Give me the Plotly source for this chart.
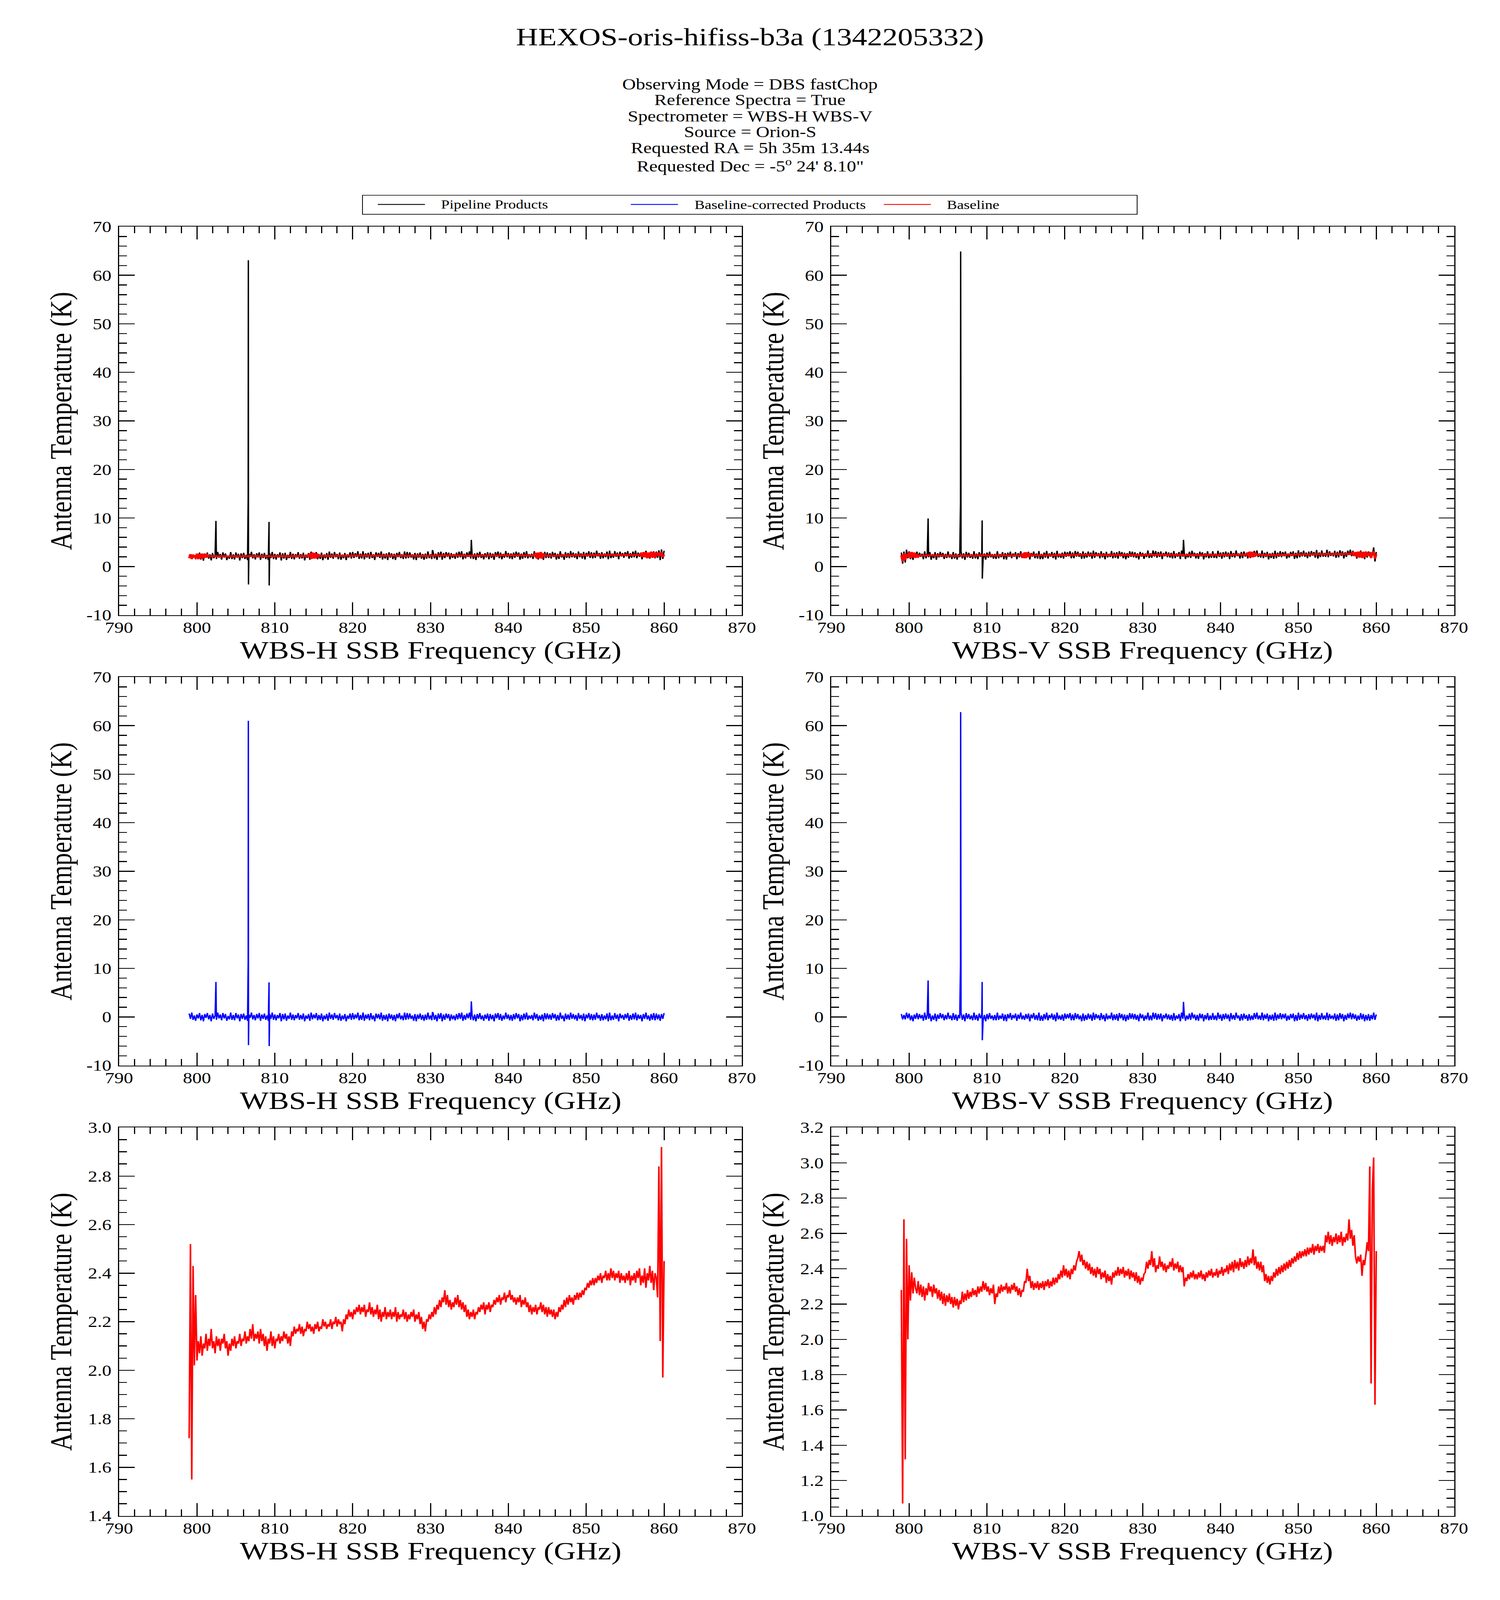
import numpy as np
import plotly.graph_objects as go

# ---------------- data ----------------
# channel grid of the spectra (GHz): 799.0 ... 860.0, 6 channels per GHz (plotted resolution)
FREQ_START, FREQ_END, N_CHAN = 799.0, 860.0, 367
freq = np.linspace(FREQ_START, FREQ_END, N_CHAN)

# Baseline, WBS-H (K), rows of 2 GHz
baseline_H = [
    1.72, 2.52, 1.55, 2.43, 2.02, 2.31, 2.04, 2.12, 2.07, 2.14, 2.06, 2.11,
    2.09, 2.15, 2.08, 2.13, 2.10, 2.17, 2.09, 2.12, 2.07, 2.14, 2.10, 2.13,
    2.08, 2.13, 2.11, 2.15, 2.09, 2.12, 2.06, 2.11, 2.08, 2.13, 2.10, 2.14,
    2.09, 2.12, 2.11, 2.15, 2.10, 2.13, 2.12, 2.16, 2.11, 2.14, 2.12, 2.17,
    2.13, 2.19, 2.12, 2.15, 2.13, 2.16, 2.11, 2.17, 2.12, 2.15, 2.10, 2.14,
    2.08, 2.13, 2.11, 2.16, 2.10, 2.14, 2.09, 2.13, 2.12, 2.15, 2.11, 2.14,
    2.12, 2.16, 2.13, 2.15, 2.11, 2.14, 2.10, 2.16, 2.14, 2.18, 2.15, 2.17,
    2.16, 2.19, 2.15, 2.18, 2.14, 2.17, 2.16, 2.20, 2.17, 2.19, 2.16, 2.18,
    2.15, 2.19, 2.17, 2.20, 2.16, 2.18, 2.17, 2.21, 2.18, 2.20, 2.17, 2.19,
    2.18, 2.21, 2.17, 2.20, 2.19, 2.22, 2.18, 2.21, 2.19, 2.20, 2.16, 2.21,
    2.19, 2.23, 2.21, 2.25, 2.22, 2.24, 2.21, 2.25, 2.23, 2.26, 2.24, 2.27,
    2.23, 2.26, 2.24, 2.27, 2.22, 2.25, 2.24, 2.28, 2.23, 2.26, 2.22, 2.25,
    2.23, 2.27, 2.21, 2.25, 2.20, 2.24, 2.22, 2.26, 2.21, 2.24, 2.22, 2.25,
    2.21, 2.24, 2.22, 2.26, 2.20, 2.24, 2.21, 2.23, 2.22, 2.25, 2.21, 2.24,
    2.20, 2.23, 2.21, 2.24, 2.22, 2.25, 2.20, 2.23, 2.21, 2.24, 2.19, 2.22,
    2.17, 2.20, 2.16, 2.21, 2.20, 2.23, 2.21, 2.24, 2.22, 2.26, 2.23, 2.27,
    2.25, 2.29, 2.26, 2.30, 2.28, 2.33, 2.27, 2.31, 2.26, 2.29, 2.25, 2.28,
    2.26, 2.30, 2.27, 2.31, 2.26, 2.29, 2.25, 2.28, 2.24, 2.27, 2.22, 2.25,
    2.21, 2.24, 2.22, 2.25, 2.21, 2.24, 2.23, 2.26, 2.24, 2.27, 2.25, 2.28,
    2.23, 2.27, 2.25, 2.28, 2.24, 2.27, 2.26, 2.29, 2.27, 2.30, 2.28, 2.31,
    2.27, 2.30, 2.29, 2.32, 2.28, 2.31, 2.30, 2.33, 2.29, 2.31, 2.28, 2.30,
    2.27, 2.30, 2.28, 2.31, 2.26, 2.29, 2.27, 2.30, 2.26, 2.28, 2.24, 2.27,
    2.23, 2.26, 2.24, 2.27, 2.23, 2.26, 2.25, 2.28, 2.24, 2.27, 2.23, 2.26,
    2.22, 2.26, 2.23, 2.25, 2.22, 2.25, 2.21, 2.24, 2.22, 2.26, 2.24, 2.27,
    2.25, 2.29, 2.26, 2.30, 2.27, 2.31, 2.28, 2.30, 2.27, 2.31, 2.29, 2.32,
    2.29, 2.32, 2.30, 2.33, 2.31, 2.34, 2.33, 2.36, 2.34, 2.37, 2.35, 2.38,
    2.35, 2.38, 2.36, 2.39, 2.37, 2.40, 2.36, 2.39, 2.38, 2.41, 2.37, 2.40,
    2.37, 2.42, 2.38, 2.41, 2.37, 2.40, 2.38, 2.41, 2.36, 2.40, 2.37, 2.39,
    2.36, 2.40, 2.37, 2.41, 2.35, 2.39, 2.37, 2.40, 2.36, 2.41, 2.38, 2.42,
    2.35, 2.39, 2.36, 2.42, 2.34, 2.40, 2.37, 2.43, 2.36, 2.41, 2.33, 2.40,
    2.38, 2.30, 2.84, 2.12, 2.92, 1.97, 2.45,
]

# Baseline, WBS-V (K)
baseline_V = [
    2.28, 1.07, 2.68, 1.32, 2.57, 2.00, 2.42, 2.22, 2.38, 2.26, 2.35, 2.29,
    2.26, 2.33, 2.25, 2.31, 2.24, 2.30, 2.22, 2.29, 2.25, 2.32, 2.27, 2.30,
    2.24, 2.31, 2.26, 2.29, 2.23, 2.28, 2.22, 2.27, 2.20, 2.26, 2.19, 2.25,
    2.21, 2.26, 2.20, 2.24, 2.18, 2.24, 2.19, 2.23, 2.17, 2.22, 2.20, 2.27,
    2.21, 2.26, 2.22, 2.28, 2.23, 2.27, 2.24, 2.29, 2.25, 2.28, 2.24, 2.30,
    2.26, 2.30, 2.27, 2.33, 2.28, 2.32, 2.27, 2.30, 2.25, 2.29, 2.26, 2.31,
    2.20, 2.26, 2.24, 2.30, 2.26, 2.31, 2.27, 2.30, 2.28, 2.32, 2.26, 2.30,
    2.26, 2.31, 2.28, 2.32, 2.27, 2.30, 2.25, 2.29, 2.24, 2.28, 2.27, 2.33,
    2.32, 2.40, 2.33, 2.36, 2.29, 2.33, 2.28, 2.32, 2.29, 2.33, 2.28, 2.32,
    2.29, 2.33, 2.28, 2.33, 2.30, 2.34, 2.29, 2.33, 2.30, 2.35, 2.31, 2.35,
    2.32, 2.37, 2.34, 2.39, 2.35, 2.42, 2.36, 2.40, 2.35, 2.39, 2.34, 2.40,
    2.37, 2.42, 2.39, 2.44, 2.46, 2.50, 2.44, 2.48, 2.42, 2.45, 2.40, 2.44,
    2.39, 2.43, 2.37, 2.41, 2.36, 2.40, 2.35, 2.41, 2.37, 2.40, 2.34, 2.38,
    2.35, 2.39, 2.32, 2.37, 2.33, 2.36, 2.31, 2.38, 2.35, 2.39, 2.36, 2.41,
    2.36, 2.40, 2.37, 2.41, 2.35, 2.39, 2.36, 2.40, 2.34, 2.39, 2.35, 2.38,
    2.33, 2.38, 2.32, 2.36, 2.31, 2.35, 2.33, 2.37, 2.38, 2.44, 2.40, 2.45,
    2.42, 2.50, 2.41, 2.46, 2.38, 2.42, 2.40, 2.47, 2.41, 2.44, 2.39, 2.43,
    2.38, 2.42, 2.40, 2.44, 2.41, 2.46, 2.39, 2.43, 2.40, 2.44, 2.38, 2.42,
    2.38, 2.41, 2.30, 2.35, 2.33, 2.37, 2.34, 2.38, 2.35, 2.39, 2.34, 2.37,
    2.34, 2.38, 2.35, 2.39, 2.34, 2.37, 2.33, 2.38, 2.35, 2.39, 2.36, 2.40,
    2.35, 2.38, 2.36, 2.40, 2.35, 2.39, 2.37, 2.41, 2.36, 2.40, 2.38, 2.42,
    2.37, 2.43, 2.39, 2.44, 2.38, 2.45, 2.40, 2.44, 2.39, 2.46, 2.41, 2.44,
    2.40, 2.45, 2.41, 2.47, 2.42, 2.46, 2.43, 2.51, 2.42, 2.47, 2.40, 2.44,
    2.39, 2.44, 2.38, 2.42, 2.33, 2.37, 2.32, 2.36, 2.31, 2.36, 2.33, 2.38,
    2.35, 2.40, 2.36, 2.41, 2.37, 2.42, 2.38, 2.43, 2.39, 2.44, 2.40, 2.45,
    2.41, 2.46, 2.43, 2.47, 2.44, 2.49, 2.45, 2.50, 2.46, 2.50, 2.47, 2.51,
    2.47, 2.52, 2.48, 2.52, 2.49, 2.54, 2.48, 2.53, 2.50, 2.54, 2.49, 2.53,
    2.50, 2.53, 2.49, 2.59, 2.55, 2.61, 2.54, 2.59, 2.53, 2.58, 2.55, 2.60,
    2.54, 2.59, 2.55, 2.61, 2.53, 2.58, 2.55, 2.60, 2.56, 2.68, 2.57, 2.62,
    2.53, 2.59, 2.47, 2.43, 2.47, 2.44, 2.48, 2.36, 2.45, 2.42, 2.48, 2.55,
    2.50, 2.98, 1.75, 2.85, 3.03, 1.63, 2.50,
]

# Baseline-corrected products, WBS-H (K), continuum channels
corrected_H = [
    0.7, -0.4, 0.9, -0.6, 0.3, -0.8, 0.5, -0.3, 0.8, -0.7, 0.4, -0.9,
    0.6, -0.2, 0.8, -0.5, 0.4, -0.9, 0.7, -0.4, 0.3, -0.6, 0.9, -0.3,
    0.5, -0.7, 0.8, -0.3, 0.6, -0.8, 0.2, -0.5, 0.9, -0.6, 0.4, -0.7,
    0.8, -0.3, 0.5, -0.9, 0.6, -0.4, 0.7, -0.6, 0.3, -0.8, 0.5, -0.2,
    0.9, -0.5, 0.4, -0.7, 0.6, -0.3, 0.8, -0.8, 0.5, -0.4, 0.7, -0.6,
    0.3, -0.8, 0.6, -0.4, 0.9, -0.6, 0.5, -0.7, 0.4, -0.3, 0.8, -0.9,
    0.6, -0.5, 0.7, -0.8, 0.3, -0.4, 0.9, -0.6, 0.5, -0.7, 0.4, -0.3,
    0.8, -0.6, 0.4, -0.5, 0.7, -0.9, 0.3, -0.4, 0.6, -0.8, 0.9, -0.5,
    0.5, -0.3, 0.8, -0.7, 0.4, -0.6, 0.7, -0.9, 0.3, -0.5, 0.6, -0.8,
    0.9, -0.4, 0.5, -0.6, 0.8, -0.3, 0.4, -0.7, 0.7, -0.8, 0.3, -0.5,
    0.6, -0.9, 0.3, -0.4, 0.7, -0.6, 0.8, -0.5, 0.5, -0.3, 0.9, -0.7,
    0.4, -0.6, 0.9, -0.8, 0.5, -0.4, 0.6, -0.7, 0.8, -0.5, 0.3, -0.9,
    0.7, -0.3, 0.6, -0.5, 0.9, -0.8, 0.4, -0.6, 0.5, -0.9, 0.7, -0.4,
    0.5, -0.7, 0.4, -0.9, 0.6, -0.3, 0.8, -0.5, 0.3, -0.7, 0.9, -0.6,
    0.8, -0.5, 0.7, -0.4, 0.3, -0.8, 0.6, -0.9, 0.5, -0.4, 0.7, -0.6,
    0.4, -0.8, 0.5, -0.6, 0.9, -0.5, 0.3, -0.7, 0.8, -0.6, 0.4, -0.9,
    0.7, -0.4, 0.8, -0.9, 0.5, -0.6, 0.7, -0.3, 0.6, -0.8, 0.5, -0.5,
    0.3, -0.7, 0.6, -0.5, 0.8, -0.4, 0.9, -0.8, 0.4, -0.6, 0.7, -0.3,
    0.9, -0.6, 0.4, -0.7, 0.5, -0.9, 0.6, -0.4, 0.8, -0.5, 0.3, -0.8,
    0.5, -0.4, 0.7, -0.8, 0.6, -0.5, 0.4, -0.9, 0.7, -0.3, 0.8, -0.6,
    0.6, -0.8, 0.3, -0.5, 0.9, -0.4, 0.5, -0.7, 0.4, -0.8, 0.6, -0.5,
    0.8, -0.3, 0.6, -0.9, 0.4, -0.7, 0.7, -0.5, 0.9, -0.6, 0.3, -0.4,
    0.4, -0.7, 0.9, -0.4, 0.6, -0.8, 0.3, -0.6, 0.5, -0.9, 0.8, -0.5,
    0.7, -0.5, 0.5, -0.6, 0.8, -0.3, 0.6, -0.8, 0.4, -0.7, 0.9, -0.4,
    0.3, -0.9, 0.7, -0.5, 0.5, -0.6, 0.9, -0.4, 0.6, -0.5, 0.4, -0.8,
    0.8, -0.4, 0.4, -0.7, 0.7, -0.9, 0.5, -0.3, 0.8, -0.6, 0.6, -0.7,
    0.5, -0.6, 0.9, -0.3, 0.4, -0.8, 0.6, -0.7, 0.3, -0.5, 0.7, -0.9,
    0.9, -0.7, 0.3, -0.6, 0.8, -0.4, 0.5, -0.9, 0.7, -0.3, 0.4, -0.6,
    0.6, -0.3, 0.8, -0.8, 0.4, -0.6, 0.7, -0.5, 0.9, -0.7, 0.5, -0.4,
    0.4, -0.9, 0.6, -0.4, 0.9, -0.5, 0.3, -0.8, 0.6, -0.6, 0.8, -0.7,
    0.7, -0.5, 0.5, -0.8, 0.6, -0.4, 0.8,
]

# Baseline-corrected products, WBS-V (K), continuum channels
corrected_V = [
    0.6, -0.5, 0.4, -0.5, 0.9, -0.3, 0.7, -0.7, 0.3, -0.9, 0.5, -0.4,
    0.8, -0.5, 0.6, -0.3, 0.4, -0.8, 0.9, -0.6, 0.5, -0.4, 0.7, -0.9,
    0.3, -0.6, 0.7, -0.9, 0.5, -0.4, 0.8, -0.3, 0.6, -0.7, 0.4, -0.5,
    0.9, -0.4, 0.3, -0.7, 0.8, -0.6, 0.5, -0.8, 0.4, -0.3, 0.9, -0.6,
    0.5, -0.9, 0.8, -0.4, 0.6, -0.5, 0.3, -0.7, 0.9, -0.6, 0.4, -0.8,
    0.7, -0.3, 0.5, -0.8, 0.4, -0.9, 0.6, -0.5, 0.8, -0.4, 0.3, -0.7,
    0.4, -0.7, 0.9, -0.6, 0.3, -0.4, 0.7, -0.8, 0.5, -0.9, 0.6, -0.3,
    0.8, -0.6, 0.4, -0.3, 0.7, -0.8, 0.5, -0.4, 0.9, -0.5, 0.3, -0.6,
    0.6, -0.4, 0.7, -0.9, 0.5, -0.3, 0.8, -0.6, 0.4, -0.7, 0.9, -0.8,
    0.3, -0.8, 0.6, -0.5, 0.9, -0.7, 0.4, -0.3, 0.7, -0.6, 0.5, -0.9,
    0.9, -0.5, 0.3, -0.6, 0.5, -0.8, 0.7, -0.4, 0.6, -0.3, 0.8, -0.7,
    0.5, -0.7, 0.8, -0.4, 0.6, -0.5, 0.3, -0.9, 0.7, -0.8, 0.4, -0.6,
    0.7, -0.4, 0.5, -0.8, 0.9, -0.6, 0.6, -0.3, 0.4, -0.7, 0.8, -0.5,
    0.4, -0.9, 0.7, -0.5, 0.3, -0.4, 0.9, -0.7, 0.5, -0.6, 0.6, -0.8,
    0.8, -0.3, 0.6, -0.7, 0.5, -0.9, 0.4, -0.6, 0.8, -0.4, 0.7, -0.5,
    0.6, -0.6, 0.4, -0.9, 0.7, -0.3, 0.5, -0.8, 0.3, -0.5, 0.9, -0.7,
    0.3, -0.7, 0.9, -0.4, 0.8, -0.6, 0.6, -0.5, 0.7, -0.9, 0.4, -0.3,
    0.7, -0.5, 0.5, -0.6, 0.4, -0.8, 0.8, -0.7, 0.3, -0.4, 0.6, -0.9,
    0.9, -0.4, 0.6, -0.8, 0.3, -0.5, 0.7, -0.6, 0.9, -0.3, 0.5, -0.7,
    0.4, -0.8, 0.7, -0.3, 0.6, -0.9, 0.4, -0.5, 0.8, -0.7, 0.3, -0.6,
    0.8, -0.6, 0.3, -0.7, 0.9, -0.4, 0.5, -0.8, 0.6, -0.5, 0.7, -0.4,
    0.5, -0.9, 0.8, -0.5, 0.4, -0.6, 0.9, -0.3, 0.3, -0.8, 0.6, -0.7,
    0.7, -0.4, 0.4, -0.8, 0.6, -0.7, 0.3, -0.6, 0.8, -0.4, 0.9, -0.5,
    0.3, -0.6, 0.9, -0.7, 0.5, -0.4, 0.7, -0.9, 0.4, -0.6, 0.5, -0.8,
    0.9, -0.7, 0.5, -0.4, 0.8, -0.5, 0.6, -0.3, 0.7, -0.8, 0.3, -0.6,
    0.6, -0.3, 0.7, -0.9, 0.4, -0.8, 0.9, -0.6, 0.5, -0.4, 0.8, -0.5,
    0.4, -0.8, 0.6, -0.5, 0.7, -0.3, 0.5, -0.7, 0.9, -0.9, 0.4, -0.6,
    0.8, -0.5, 0.3, -0.6, 0.9, -0.7, 0.6, -0.4, 0.3, -0.5, 0.7, -0.8,
    0.5, -0.7, 0.8, -0.4, 0.6, -0.9, 0.4, -0.6, 0.7, -0.3, 0.9, -0.5,
    0.7, -0.4, 0.5, -0.8, 0.3, -0.6, 0.8, -0.5, 0.6, -0.9, 0.4, -0.7,
    0.6, -0.8, 0.4, -0.5, 0.9, -0.6, 0.5,
]

# Spectral-line channels (GHz, K)
lines_H_freq = [802.42, 802.44, 806.58, 806.60, 806.62, 809.26, 809.28, 830.25, 835.22, 835.24]
lines_H_corrected = [5.2, 7.2, 11.5, 61.0, -5.8, 7.1, -6.0, 1.0, 2.0, 3.2]
lines_H_pipeline = [7.4, 9.4, 14.0, 63.1, -3.7, 9.2, -3.9, 3.4, 4.2, 5.5]

lines_V_freq = [802.42, 802.44, 806.60, 806.62, 806.64, 809.38, 809.40, 835.22, 835.24]
lines_V_corrected = [5.5, 7.5, 11.0, 62.8, 1.0, 7.2, -4.8, 1.8, 3.1]
lines_V_pipeline = [7.8, 9.9, 13.3, 64.9, 3.3, 9.5, -2.5, 4.1, 5.5]

# Sub-band edge ripples of the baseline shown in the top panels (start GHz, offsets K)
bursts_H = [
    (799.833, [-0.5, 0.6, -0.6, 0.5, -0.5, 0.6, -0.4, 0.5, -0.3, 0.3]),
    (814.5, [0.5, -0.6, 0.7, -0.5, 0.6, -0.5, 0.4]),
    (843.5, [0.5, -0.6, 0.6, -0.5, 0.7, -0.6, 0.4]),
    (857.0, [0.3, -0.4, 0.6, -0.5, 0.6, -0.7, 0.5, -0.6, 0.7, -0.5, 0.6, -0.6, 0.5]),
]
bursts_V = [
    (800.0, [0.5, -0.5, 0.6, -0.4, 0.5, -0.5, 0.3, -0.3]),
    (814.5, [0.4, -0.5, 0.6, -0.6, 0.5, -0.4, 0.3]),
    (843.5, [0.4, -0.5, 0.6, -0.5, 0.5, -0.4, 0.3]),
    (857.0, [0.3, -0.4, 0.5, -0.5, 0.6, -0.5, 0.6, -0.6, 0.5, -0.5, 0.6, -0.4]),
]

x_tick_vals = [790, 800, 810, 820, 830, 840, 850, 860, 870]
y_tick_vals_main = [-10, 0, 10, 20, 30, 40, 50, 60, 70]
y_tick_vals_bl_H = [1.4, 1.6, 1.8, 2.0, 2.2, 2.4, 2.6, 2.8, 3.0]
y_tick_vals_bl_V = [1.0, 1.2, 1.4, 1.6, 1.8, 2.0, 2.2, 2.4, 2.6, 2.8, 3.0, 3.2]

title_text = "HEXOS-oris-hifiss-b3a (1342205332)"
info_lines = [
    "Observing Mode = DBS fastChop",
    "Reference Spectra = True",
    "Spectrometer = WBS-H WBS-V",
    "Source = Orion-S",
    "Requested RA = 5h 35m 13.44s",
    "Requested Dec = -5<sup>o</sup> 24' 8.10\"",
]
legend_names = ["Pipeline Products", "Baseline-corrected Products", "Baseline"]

assert len(baseline_H) == N_CHAN and len(baseline_V) == N_CHAN
assert len(corrected_H) == N_CHAN and len(corrected_V) == N_CHAN

# ---------------- helpers ----------------
W, H = 3840, 4973
FONT = "Liberation Serif"
BLACK, BLUE, RED = "#000000", "#0000ff", "#ff0000"


def px_x(p):
    return p / W


def px_y(p):
    return 1 - p / H


def with_lines(gx, gy, lx, ly):
    x = np.concatenate([np.asarray(gx, float), np.asarray(lx, float)])
    y = np.concatenate([np.asarray(gy, float), np.asarray(ly, float)])
    order = np.argsort(x, kind="stable")
    return x[order], y[order]


def top_baseline(base, bursts):
    y = np.array(base, float)
    for start, offs in bursts:
        i0 = int(round((start - FREQ_START) * 6))
        y[i0:i0 + len(offs)] += np.array(offs)
    return y


bH = np.array(baseline_H)
bV = np.array(baseline_V)
cH = np.array(corrected_H)
cV = np.array(corrected_V)

pipe_H_x, pipe_H_y = with_lines(freq, bH + cH, lines_H_freq, lines_H_pipeline)
pipe_V_x, pipe_V_y = with_lines(freq, bV + cV, lines_V_freq, lines_V_pipeline)
corr_H_x, corr_H_y = with_lines(freq, cH, lines_H_freq, lines_H_corrected)
corr_V_x, corr_V_y = with_lines(freq, cV, lines_V_freq, lines_V_corrected)
top_bH = top_baseline(baseline_H, bursts_H)
top_bV = top_baseline(baseline_V, bursts_V)

fig = go.Figure()


def add(x, y, color, width, ax):
    fig.add_trace(go.Scatter(x=x, y=y, mode="lines", line=dict(color=color, width=width),
                             xaxis="x" + ax, yaxis="y" + ax, showlegend=False, hoverinfo="skip"))


add(pipe_H_x, pipe_H_y, BLACK, 3.5, "1")
add(freq, top_bH, RED, 6, "1")
add(pipe_V_x, pipe_V_y, BLACK, 3.5, "2")
add(freq, top_bV, RED, 6, "2")
add(corr_H_x, corr_H_y, BLUE, 3.5, "3")
add(corr_V_x, corr_V_y, BLUE, 3.5, "4")
add(freq, bH, RED, 4, "5")
add(freq, bV, RED, 4, "6")

# ---------------- layout ----------------
cols = [(274, 1899), (2132, 3757)]
rows = [(686, 1906), (2101, 3321), (3516, 4736)]
tickfont = dict(family=FONT, size=48, color="black")


def fmt(v, nd):
    return ("%d" % v) if nd == 0 else ("%.1f" % v)


layout_axes = {}
ann = []
yconf = [
    (y_tick_vals_main, 2, 0), (y_tick_vals_main, 2, 0),
    (y_tick_vals_main, 2, 0), (y_tick_vals_main, 2, 0),
    (y_tick_vals_bl_H, 0.05, 1), (y_tick_vals_bl_V, 0.05, 1),
]
xlabels = ["WBS-H SSB Frequency (GHz)", "WBS-V SSB Frequency (GHz)"]
for k in range(6):
    r, c = divmod(k, 2)
    n = str(k + 1)
    x0, x1 = cols[c]
    y0, y1 = rows[r]
    tv, mdt, nd = yconf[k]
    common = dict(showline=True, linecolor="black", linewidth=3, mirror="ticks",
                  ticks="inside", ticklen=40, tickwidth=3, tickcolor="black",
                  showgrid=False, zeroline=False, tickfont=tickfont)
    layout_axes["xaxis" + ("" if k == 0 else n)] = dict(
        common, domain=[px_x(x0), px_x(x1)], anchor="y" + n, range=[790, 870],
        tickmode="array", tickvals=x_tick_vals, ticktext=[str(v) for v in x_tick_vals],
        minor=dict(tickmode="linear", tick0=790, dtick=2, ticks="inside", ticklen=20,
                   tickwidth=3, tickcolor="black", showgrid=False),
        ticklabelstandoff=-6)
    layout_axes["yaxis" + ("" if k == 0 else n)] = dict(
        common, domain=[px_y(y1), px_y(y0)], anchor="x" + n, range=[tv[0], tv[-1]],
        tickmode="array", tickvals=tv, ticktext=[fmt(v, nd) for v in tv],
        minor=dict(tickmode="linear", tick0=tv[0], dtick=mdt, ticks="inside", ticklen=20,
                   tickwidth=3, tickcolor="black", showgrid=False),
        ticklabelstandoff=7)
    # axis titles
    ann.append(dict(text=xlabels[c], x=px_x((x0 + x1) / 2), y=px_y(y1 + 110),
                    xref="paper", yref="paper", showarrow=False, xanchor="center", yanchor="middle",
                    font=dict(family=FONT, size=78, color="black")))
    ann.append(dict(text="Antenna Temperature (K)", x=px_x(x0 - 153), y=px_y((y0 + y1) / 2),
                    xref="paper", yref="paper", showarrow=False, xanchor="center", yanchor="middle",
                    textangle=-90, font=dict(family=FONT, size=78, color="black")))

# title and info
ann.append(dict(text=title_text, x=0.5, y=px_y(89), xref="paper", yref="paper", showarrow=False,
                xanchor="center", yanchor="middle", font=dict(family=FONT, size=78, color="black")))
for i, t in enumerate(info_lines):
    ann.append(dict(text=t, x=0.5, y=px_y(238 + 50 * i + (4 if i == 5 else 0)), xref="paper", yref="paper",
                    showarrow=False, xanchor="center", yanchor="middle",
                    font=dict(family=FONT, size=48, color="black")))

# legend (drawn as a box with samples)
shapes = [dict(type="rect", xref="paper", yref="paper", x0=px_x(909), x1=px_x(2930),
               y0=px_y(647), y1=px_y(587), line=dict(color="black", width=2))]
leg_line_x = [949, 1609, 2269]
leg_text_x = [1112, 1773, 2432]
for lx, tx, name, col in zip(leg_line_x, leg_text_x, legend_names, [BLACK, BLUE, RED]):
    shapes.append(dict(type="line", xref="paper", yref="paper", x0=px_x(lx), x1=px_x(lx + 123),
                       y0=px_y(616), y1=px_y(616), line=dict(color=col, width=3)))
    ann.append(dict(text=name, x=px_x(tx), y=px_y(616), xref="paper", yref="paper", showarrow=False,
                    xanchor="left", yanchor="middle", font=dict(family=FONT, size=39, color="black")))

fig.update_layout(
    width=W, height=H, autosize=False,
    margin=dict(l=0, r=0, t=0, b=0, pad=0),
    paper_bgcolor="white", plot_bgcolor="white",
    font=dict(family=FONT, color="black"),
    showlegend=False,
    annotations=ann, shapes=shapes,
    **layout_axes,
)

# fit the fixed-size 3840x4973 figure into the browser window
post = ("document.body.style.margin='0';document.body.style.overflow='hidden';"
        "var gd=document.getElementById('{plot_id}');"
        "var sx=window.innerWidth/%d, sy=window.innerHeight/%d;"
        "gd.style.transformOrigin='0 0';gd.style.transform='scale('+sx+','+sy+')';" % (W, H))
fig.write_html("out.html", config={"displayModeBar": False}, post_script=post)
